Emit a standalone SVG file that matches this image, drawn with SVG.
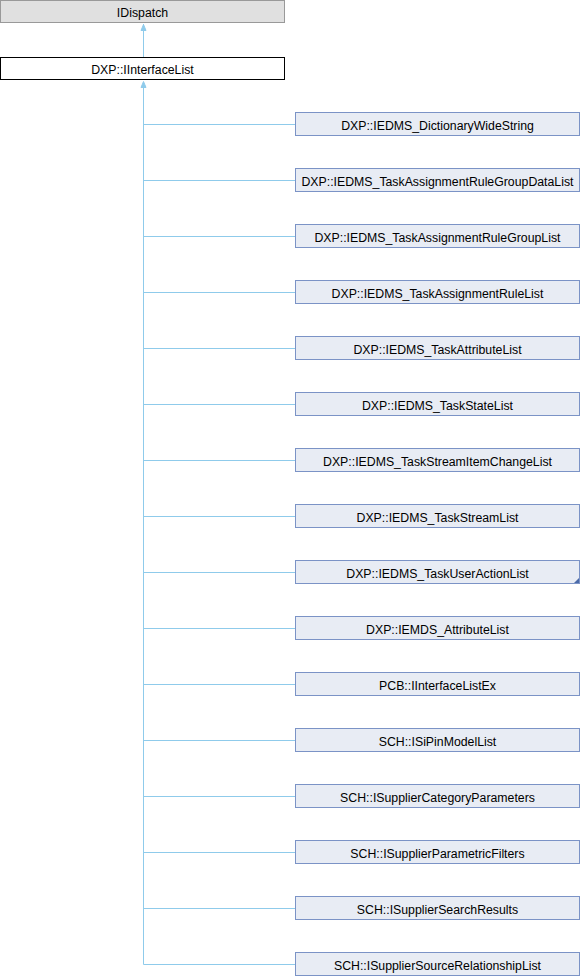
<svg xmlns="http://www.w3.org/2000/svg" width="580" height="976" viewBox="0 0 580 976">
<style>
text{font-family:"Liberation Sans",Arial,sans-serif;font-size:12.3px;fill:#000;text-anchor:middle}
.n rect{fill:#E8ECF4;stroke:#7B93C6;stroke-width:1}
.e{stroke:#8FCBEB;stroke-width:1;fill:none}
.ah{fill:#8FCBEB;stroke:#8FCBEB}
</style>
<g id="connectors">
<path class="e" d="M143.5,57 V24"/>
<path class="ah" d="M143.5,24.5 L146,30.5 L141,30.5 Z"/>
<path class="e" d="M143.5,87 V964.5"/>
<path class="ah" d="M143.5,81.5 L146,87.5 L141,87.5 Z"/>
<path class="e" d="M143.5,124.5H295.5 M143.5,180.5H295.5 M143.5,236.5H295.5 M143.5,292.5H295.5 M143.5,348.5H295.5 M143.5,404.5H295.5 M143.5,460.5H295.5 M143.5,516.5H295.5 M143.5,572.5H295.5 M143.5,628.5H295.5 M143.5,684.5H295.5 M143.5,740.5H295.5 M143.5,796.5H295.5 M143.5,852.5H295.5 M143.5,908.5H295.5 M143.5,964.5H295.5"/>
</g>
<g id="IDispatch"><rect x="0.5" y="0.5" width="284" height="22" fill="#E0E0E0" stroke="#999"/><text x="142.5" y="16.5">IDispatch</text></g>
<g id="IInterfaceList"><rect x="0.5" y="57.5" width="284" height="22" fill="#fff" stroke="#000"/><text x="142.5" y="73.5">DXP::IInterfaceList</text></g>
<g id="n1" class="n"><rect x="295.5" y="112.5" width="284" height="23"/><text x="437.5" y="129.5">DXP::IEDMS_DictionaryWideString</text></g>
<g id="n2" class="n"><rect x="295.5" y="168.5" width="284" height="23"/><text x="437.5" y="185.5">DXP::IEDMS_TaskAssignmentRuleGroupDataList</text></g>
<g id="n3" class="n"><rect x="295.5" y="224.5" width="284" height="23"/><text x="437.5" y="241.5">DXP::IEDMS_TaskAssignmentRuleGroupList</text></g>
<g id="n4" class="n"><rect x="295.5" y="280.5" width="284" height="23"/><text x="437.5" y="297.5">DXP::IEDMS_TaskAssignmentRuleList</text></g>
<g id="n5" class="n"><rect x="295.5" y="336.5" width="284" height="23"/><text x="437.5" y="353.5">DXP::IEDMS_TaskAttributeList</text></g>
<g id="n6" class="n"><rect x="295.5" y="392.5" width="284" height="23"/><text x="437.5" y="409.5">DXP::IEDMS_TaskStateList</text></g>
<g id="n7" class="n"><rect x="295.5" y="448.5" width="284" height="23"/><text x="437.5" y="465.5">DXP::IEDMS_TaskStreamItemChangeList</text></g>
<g id="n8" class="n"><rect x="295.5" y="504.5" width="284" height="23"/><text x="437.5" y="521.5">DXP::IEDMS_TaskStreamList</text></g>
<g id="n9" class="n"><rect x="295.5" y="560.5" width="284" height="23"/><text x="437.5" y="577.5">DXP::IEDMS_TaskUserActionList</text><path d="M579,578 L579,583 L574,583 Z" fill="#4A6AA8"/></g>
<g id="n10" class="n"><rect x="295.5" y="616.5" width="284" height="23"/><text x="437.5" y="633.5">DXP::IEMDS_AttributeList</text></g>
<g id="n11" class="n"><rect x="295.5" y="672.5" width="284" height="23"/><text x="437.5" y="689.5">PCB::IInterfaceListEx</text></g>
<g id="n12" class="n"><rect x="295.5" y="728.5" width="284" height="23"/><text x="437.5" y="745.5">SCH::ISiPinModelList</text></g>
<g id="n13" class="n"><rect x="295.5" y="784.5" width="284" height="23"/><text x="437.5" y="801.5">SCH::ISupplierCategoryParameters</text></g>
<g id="n14" class="n"><rect x="295.5" y="840.5" width="284" height="23"/><text x="437.5" y="857.5">SCH::ISupplierParametricFilters</text></g>
<g id="n15" class="n"><rect x="295.5" y="896.5" width="284" height="23"/><text x="437.5" y="913.5">SCH::ISupplierSearchResults</text></g>
<g id="n16" class="n"><rect x="295.5" y="952.5" width="284" height="23"/><text x="437.5" y="969.5">SCH::ISupplierSourceRelationshipList</text></g>
</svg>
